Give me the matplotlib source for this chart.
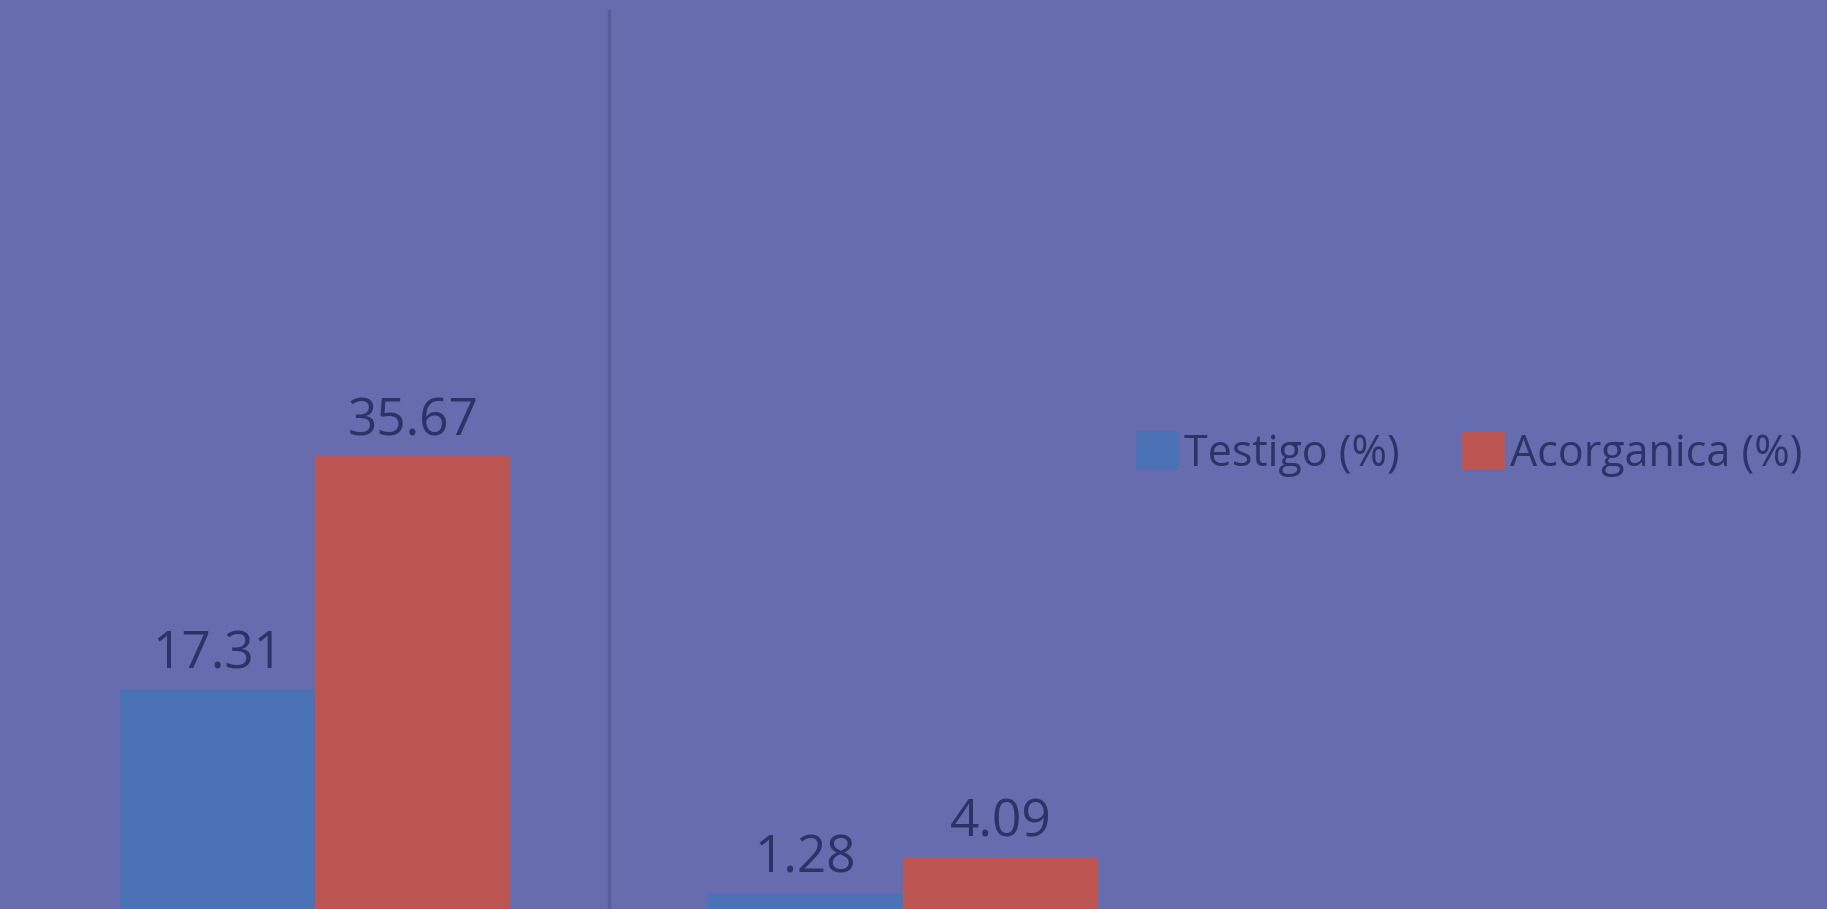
import matplotlib.pyplot as plt
import numpy as np

# values
categories = ["A", "B"]
testigo = [17.31, 1.28]
acorganica = [35.67, 4.09]
series_names = ["Testigo (%)", "Acorganica (%)"]

bg = "#676caf"
blue = "#4a72b5"
red = "#bd5653"
txt = "#2c3366"

plt.rcParams["font.family"] = ["Open Sans", "DejaVu Sans"]

fig = plt.figure(figsize=(18.27, 9.09), dpi=100)
fig.patch.set_facecolor(bg)
ax = fig.add_axes([0, 0, 1, 1])
ax.set_facecolor(bg)

x = np.arange(len(categories))
w = 0.332
b1 = ax.bar(x - w / 2, testigo, w, color=blue, label=series_names[0])
b2 = ax.bar(x + w / 2, acorganica, w, color=red, label=series_names[1])

ax.bar_label(b1, labels=[f"{v:.2f}" for v in testigo], padding=6, fontsize=37, color=txt)
ax.bar_label(b2, labels=[f"{v:.2f}" for v in acorganica], padding=6, fontsize=37, color=txt)

# category separator line
ax.axvline(0.5, ymin=0, ymax=0.988, color="#585c9d", lw=2.5)

ax.set_xlim(-0.536, 2.571)
ax.set_ylim(0, 71.6)
for s in ax.spines.values():
    s.set_visible(False)
ax.set_xticks([])
ax.set_yticks([])

fig.legend(loc="center left", bbox_to_anchor=(1136 / 1827, 1 - 454 / 909),
           ncol=2, frameon=False, fontsize=31, labelcolor=txt,
           handlelength=1.0, handleheight=1.0, handletextpad=0.12,
           columnspacing=1.45, borderpad=0.0, borderaxespad=0.0)

fig.savefig("out.png", dpi=100, facecolor=bg)
